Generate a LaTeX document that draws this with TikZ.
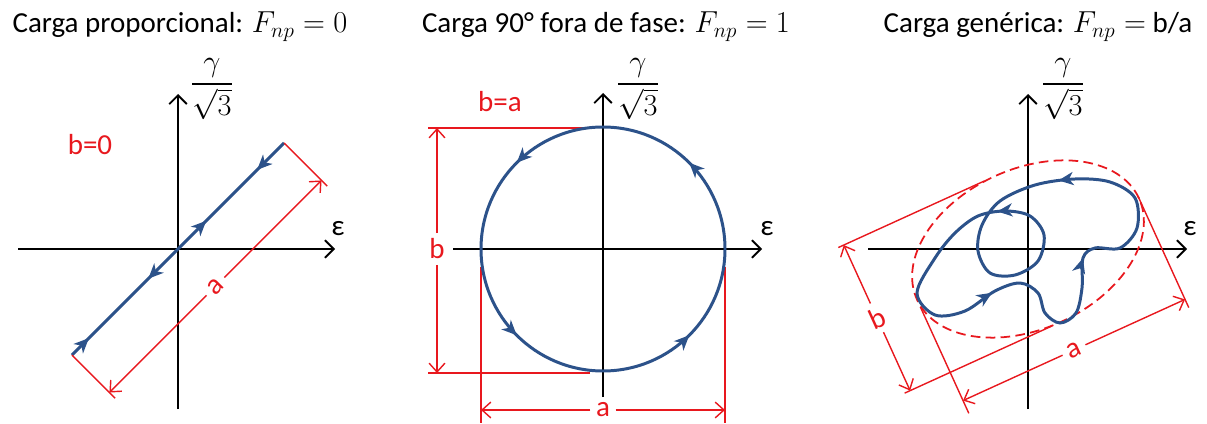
\documentclass[tikz,border=0pt]{standalone}
\usepackage{amsmath}
\usepackage{fontspec}
\setmainfont{Carlito}
\usepackage{tikz}
\usetikzlibrary{calc, arrows.meta, decorations.markings}

\definecolor{loopblue}{RGB}{44,82,138}
\definecolor{dimred}{RGB}{232,24,30}

\tikzset{
    flowtip/.tip={Stealth[length=8.5pt, width=7.5pt, inset=2.5pt]},
    axis/.style={line width=1.1pt, -{Straight Barb[length=5pt, width=10pt]}},
    path line/.style={loopblue, line width=1.7pt, postaction={decorate}},
    dim line/.style={dimred, line width=0.8pt},
    dim arrow/.style={dimred, line width=0.8pt, -{Straight Barb[length=5pt, width=9pt]}},
    dim label/.style={text=dimred, font=\fontsize{16.5}{20}\selectfont, fill=white, inner sep=3pt},
    title/.style={font=\fontsize{16.5}{20}\selectfont, anchor=base, inner sep=1pt},
    axis label/.style={font=\fontsize{16.5}{20}\selectfont, inner sep=0pt}
}

\begin{document}
\begin{tikzpicture}[x=0.02cm, y=0.02cm]
    \useasboundingbox (0,0) rectangle (1207,423);

    % Titles
    \node[title] (tit1) at (180,390) {Carga proporcional: $F_{np} = 0$};
    \node[title] (tit2) at (606,390) {Carga 90° fora de fase: $F_{np} = 1$};
    \node[title] (tit3) at (1038,390) {Carga genérica: $F_{np} = $ b/a};

    % ---------- Proportional ----------
    \draw[axis] (18,174) -- (335,174);
    \draw[axis] (178,14) -- (178,329);
    \node[axis label] (eps1) at (338,194) {ε};
    \node[axis label] (gam1) at (212,334) {$\displaystyle\frac{\gamma}{\sqrt{3}}$};
    \node[dim label] (b1) at (90,278) {b=0};

    \begin{scope}[shift={(178,174)}, rotate=45]
        \coordinate (p1s) at (-150,0);
        \coordinate (p1e) at (150,0);
        \draw[path line, decoration={markings,
            mark=at position 0.08 with {\arrow{flowtip}},
            mark=at position 0.36 with {\arrowreversed{flowtip}},
            mark=at position 0.633 with {\arrow{flowtip}},
            mark=at position 0.873 with {\arrowreversed{flowtip}}}]
            (p1s) -- (p1e);
        \draw[dim line] (p1s) -- (-150,-61) (p1e) -- (150,-61);
        \node[dim label, rotate=45] (a1) at (0,-53) {a};
        \draw[dim arrow] (a1) -- (-150,-53);
        \draw[dim arrow] (a1) -- (150,-53);
    \end{scope}

    % ---------- 90 deg out of phase ----------
    \draw[dim line] (428,295) -- (587,295);
    \draw[dim line] (428,50) -- (590,50);
    \draw[dim line] (481,156) -- (481,0);
    \draw[dim line] (725,156) -- (725,0);
    \node[dim label] (b2) at (437,174) {b};
    \draw[dim arrow] (b2) -- (437,295);
    \draw[dim arrow] (b2) -- (437,50);
    \node[dim label, inner ysep=0pt] (a2) at (603,13) {a};
    \draw[dim arrow] (a2) -- (481,13);
    \draw[dim arrow] (a2) -- (725,13);
    \node[dim label, fill=none] (ba2) at (500,321) {b=a};

    \draw[axis] (453,174) -- (762,174);
    \draw[axis] (603,26) -- (603,330);
    \node[axis label] (eps2) at (767,194) {ε};
    \node[axis label] (gam2) at (638,334) {$\displaystyle\frac{\gamma}{\sqrt{3}}$};

    \draw[path line, decoration={markings,
        mark=at position 0.125 with {\arrow{flowtip}},
        mark=at position 0.375 with {\arrow{flowtip}},
        mark=at position 0.625 with {\arrow{flowtip}},
        mark=at position 0.875 with {\arrow{flowtip}}}]
        (603,174) circle (122);

    % ---------- Generic ----------
    \draw[axis] (868,174) -- (1187,174);
    \draw[axis] (1028,14) -- (1028,329);
    \node[axis label] (eps3) at (1190,194) {ε};
    \node[axis label] (gam3) at (1063,334) {$\displaystyle\frac{\gamma}{\sqrt{3}}$};

    \begin{scope}[shift={(1028,174)}, rotate=24.5]
        \draw[dim line, line width=1pt, dash pattern=on 5.5pt off 3pt] (0,0) ellipse (122 and 80);
        \draw[dim line] (-172,80) -- (-12,80);
        \draw[dim line] (-172,-80) -- (-10,-80);
        \draw[dim line] (-122,-8) -- (-122,-125);
        \draw[dim line] (122,2) -- (122,-120);
        \node[dim label, rotate=24.5] (b3) at (-166,0) {b};
        \draw[dim arrow] (b3) -- (-166,80);
        \draw[dim arrow] (b3) -- (-166,-80);
        \node[dim label, rotate=24.5] (a3) at (0,-111) {a};
        \draw[dim arrow] (a3) -- (-122,-111);
        \draw[dim arrow] (a3) -- (122,-111);
    \end{scope}

    \draw[path line, decoration={markings,
        mark=at position 0.075 with {\arrow{flowtip}},
        mark=at position 0.272 with {\arrow{flowtip}},
        mark=at position 0.487 with {\arrow{flowtip}},
        mark=at position 0.822 with {\arrow{flowtip}}}]
        plot[smooth cycle, tension=0.55] coordinates {
        (917,130) (935,108) (965,112) (995,132) (1020,140) (1038,130)
        (1045,110) (1060,100) (1076,110) (1082,135) (1083,165) (1095,175)
        (1120,175) (1137,195) (1135,225) (1110,241) (1075,244) (1035,238)
        (1000,222) (982,198) (978,172) (990,150) (1015,148) (1038,162)
        (1044,188) (1030,207) (1005,212) (978,207) (955,190) (935,165)};
\end{tikzpicture}
\end{document}
